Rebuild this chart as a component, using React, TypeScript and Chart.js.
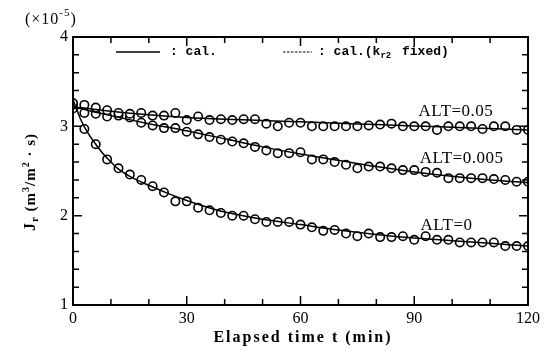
import { useEffect, useRef } from "react";
import { Chart, registerables } from "chart.js";
Chart.register(...registerables);

// measured times (min)
const times = [0, 3, 6, 9, 12, 15, 18, 21, 24, 27, 30, 33, 36, 39, 42, 45, 48, 51, 54, 57, 60, 63, 66, 69, 72, 75, 78, 81, 84, 87, 90, 93, 96, 99, 102, 105, 108, 111, 114, 117, 120];

// measured flux (x1e-5 m3/m2 s)
const alt005 = [3.26, 3.24, 3.21, 3.18, 3.15, 3.14, 3.15, 3.12, 3.12, 3.15, 3.07, 3.11, 3.07, 3.08, 3.07, 3.08, 3.08, 3.03, 3.0, 3.04, 3.04, 3.0, 3.0, 3.0, 3.0, 3.0, 3.01, 3.02, 3.03, 3.0, 3.0, 3.0, 2.96, 3.0, 3.0, 3.0, 2.97, 3.0, 3.0, 2.96, 2.96];
const alt0005 = [3.2, 3.15, 3.14, 3.11, 3.12, 3.1, 3.04, 3.01, 2.98, 2.98, 2.94, 2.91, 2.88, 2.85, 2.83, 2.81, 2.77, 2.73, 2.7, 2.7, 2.71, 2.63, 2.63, 2.6, 2.57, 2.53, 2.55, 2.55, 2.53, 2.51, 2.51, 2.49, 2.48, 2.42, 2.42, 2.42, 2.42, 2.41, 2.4, 2.38, 2.38];
const alt0 = [3.25, 2.97, 2.8, 2.63, 2.53, 2.46, 2.4, 2.33, 2.26, 2.16, 2.16, 2.09, 2.06, 2.03, 2.0, 2.0, 1.96, 1.93, 1.93, 1.93, 1.9, 1.87, 1.83, 1.84, 1.8, 1.77, 1.8, 1.76, 1.76, 1.77, 1.73, 1.77, 1.73, 1.73, 1.7, 1.7, 1.7, 1.7, 1.66, 1.66, 1.66];

// calculated curves
const curveT0 = [0, 2, 4, 6, 8, 10, 12, 15, 20, 25, 30, 35, 40, 50, 60, 70, 80, 90, 100, 110, 120];
const curve0 = [3.3, 3.08, 2.92, 2.8, 2.69, 2.6, 2.52, 2.44, 2.34, 2.25, 2.17, 2.1, 2.04, 1.96, 1.9, 1.84, 1.79, 1.75, 1.72, 1.69, 1.66];
const curveT = [0, 10, 20, 30, 40, 50, 60, 70, 80, 90, 100, 110, 120];
const curve0005 = [3.22, 3.12, 3.03, 2.95, 2.86, 2.77, 2.69, 2.62, 2.55, 2.49, 2.44, 2.4, 2.37];
const curve005 = [3.22, 3.17, 3.13, 3.1, 3.08, 3.065, 3.05, 3.035, 3.02, 3.005, 2.99, 2.975, 2.96];

const xTicks = [0, 30, 60, 90, 120];
const yTicks = [1, 2, 3, 4];
const curveLabels = [
  { text: "ALT=0.05", x: 101, y: 3.17 },
  { text: "ALT=0.005", x: 102.5, y: 2.64 },
  { text: "ALT=0", x: 98.5, y: 1.895 },
];

const pts = (xs: number[], ys: number[]) => xs.map((x, i) => ({ x, y: ys[i] }));

const decor = {
  id: "decor",
  afterDraw(chart: any) {
    const { ctx, chartArea: a, scales } = chart;
    const xs = scales.x, ys = scales.y;
    ctx.save();
    ctx.strokeStyle = "#000";
    ctx.lineWidth = 2;
    ctx.strokeRect(a.left, a.top, a.right - a.left, a.bottom - a.top);
    ctx.lineWidth = 1.5;
    ctx.beginPath();
    for (let v = 0; v <= 120; v += 10) {
      const px = xs.getPixelForValue(v);
      const len = v % 30 === 0 ? 9 : 6;
      ctx.moveTo(px, a.bottom); ctx.lineTo(px, a.bottom - len);
      ctx.moveTo(px, a.top); ctx.lineTo(px, a.top + len);
    }
    for (let k = 0; k <= 15; k++) {
      const v = 1 + k * 0.2;
      const py = ys.getPixelForValue(v);
      const len = k % 5 === 0 ? 9 : 6;
      ctx.moveTo(a.left, py); ctx.lineTo(a.left + len, py);
      ctx.moveTo(a.right, py); ctx.lineTo(a.right - len, py);
    }
    ctx.stroke();

    ctx.fillStyle = "#000";
    // curve labels
    ctx.font = "17px 'Liberation Serif'";
    (ctx as any).letterSpacing = "0.5px";
    ctx.textAlign = "center";
    ctx.textBaseline = "middle";
    for (const l of curveLabels) {
      ctx.fillText(l.text, xs.getPixelForValue(l.x), ys.getPixelForValue(l.y));
    }
    (ctx as any).letterSpacing = "1px";
    // exponent
    ctx.textAlign = "left";
    ctx.textBaseline = "alphabetic";
    ctx.font = "16px 'Liberation Serif'";
    ctx.fillText("(×10", 25, 24);
    let w = ctx.measureText("(×10").width;
    ctx.font = "11px 'Liberation Serif'";
    ctx.fillText("-5", 25 + w, 16);
    const w2 = ctx.measureText("-5").width;
    ctx.font = "16px 'Liberation Serif'";
    ctx.fillText(")", 25 + w + w2, 24);

    // y title rotated
    ctx.save();
    ctx.translate(30, 182);
    ctx.rotate(-Math.PI / 2);
    ctx.textAlign = "left";
    const parts: [string, string, number][] = [
      ["J", "bold 16px 'Liberation Serif'", 0],
      ["r", "bold 11px 'Liberation Serif'", 3],
      [" (m", "bold 15px 'Liberation Serif'", 0],
      ["3", "bold 10px 'Liberation Serif'", -6],
      ["/m", "bold 15px 'Liberation Serif'", 0],
      ["2", "bold 10px 'Liberation Serif'", -6],
      [" · s)", "bold 15px 'Liberation Serif'", 0],
    ];
    let total = 0;
    for (const [t, f] of parts) { ctx.font = f; total += ctx.measureText(t).width; }
    let cx = -total / 2;
    for (const [t, f, dy] of parts) {
      ctx.font = f; ctx.fillText(t, cx, 5 + dy); cx += ctx.measureText(t).width;
    }
    ctx.restore();

    // x title
    ctx.font = "bold 16px 'Liberation Serif'";
    (ctx as any).letterSpacing = "2px";
    ctx.textAlign = "center";
    ctx.fillText("Elapsed time t (min)", 303, 342);
    (ctx as any).letterSpacing = "0px";

    // legend
    const ly = 52;
    ctx.lineWidth = 1.5;
    ctx.beginPath(); ctx.moveTo(116, ly); ctx.lineTo(160, ly); ctx.stroke();
    ctx.setLineDash([2.5, 1.5]);
    ctx.lineWidth = 1.2;
    ctx.beginPath(); ctx.moveTo(283, ly); ctx.lineTo(312, ly); ctx.stroke();
    ctx.setLineDash([]);
    ctx.font = "bold 13px 'Liberation Mono'";
    ctx.textAlign = "left";
    ctx.textBaseline = "middle";
    ctx.fillText(": cal.", 170, ly);
    ctx.fillText(": cal.(k", 318, ly);
    let lw = ctx.measureText(": cal.(k").width;
    ctx.font = "bold 9px 'Liberation Mono'";
    ctx.fillText("r2", 318 + lw, ly + 4);
    const lw2 = ctx.measureText("r2").width;
    ctx.font = "bold 13px 'Liberation Mono'";
    ctx.fillText(" fixed)", 318 + lw + lw2 + 3, ly);
    ctx.restore();
  },
};

export default function App() {
  const ref = useRef<HTMLCanvasElement>(null);
  useEffect(() => {
    document.body.style.margin = "0";
    const lineDs = (data: any[]) => ({
      type: "line" as const,
      data,
      borderColor: "#000",
      borderWidth: 1.5,
      pointRadius: 0,
      tension: 0.4,
      cubicInterpolationMode: "monotone" as const,
      fill: false,
    });
    const ptDs = (data: any[]) => ({
      type: "scatter" as const,
      data,
      showLine: false,
      pointRadius: 4.2,
      pointBorderWidth: 1.6,
      pointBorderColor: "#000",
      pointBackgroundColor: "#fff",
    });
    const chart = new Chart(ref.current!, {
      type: "scatter",
      data: {
        datasets: [
          lineDs(pts(curveT, curve005)),
          lineDs(pts(curveT, curve0005)),
          lineDs(pts(curveT0, curve0)),
          ptDs(pts(times, alt005)),
          ptDs(pts(times, alt0005)),
          ptDs(pts(times, alt0)),
        ] as any,
      },
      options: {
        animation: false,
        responsive: false,
        layout: { padding: { top: 37, right: 15, left: 0, bottom: 0 } },
        plugins: { legend: { display: false }, tooltip: { enabled: false } },
        scales: {
          x: {
            type: "linear",
            min: 0,
            max: 120,
            afterBuildTicks: (s: any) => { s.ticks = xTicks.map((v) => ({ value: v })); },
            afterFit: (s: any) => { s.height = 46; },
            grid: { display: false, drawTicks: false },
            border: { display: false },
            ticks: { color: "#000", font: { family: "'Liberation Serif'", size: 16 }, padding: 4, maxRotation: 0 },
          },
          y: {
            type: "linear",
            min: 1,
            max: 4,
            afterBuildTicks: (s: any) => { s.ticks = yTicks.map((v) => ({ value: v })); },
            afterFit: (s: any) => { s.width = 73; },
            grid: { display: false, drawTicks: false },
            border: { display: false },
            ticks: { color: "#000", font: { family: "'Liberation Serif'", size: 16 }, padding: 5 },
          },
        },
      },
      plugins: [decor],
    });
    return () => chart.destroy();
  }, []);
  return <canvas ref={ref} width={544} height={351} style={{ display: "block" }} />;
}
